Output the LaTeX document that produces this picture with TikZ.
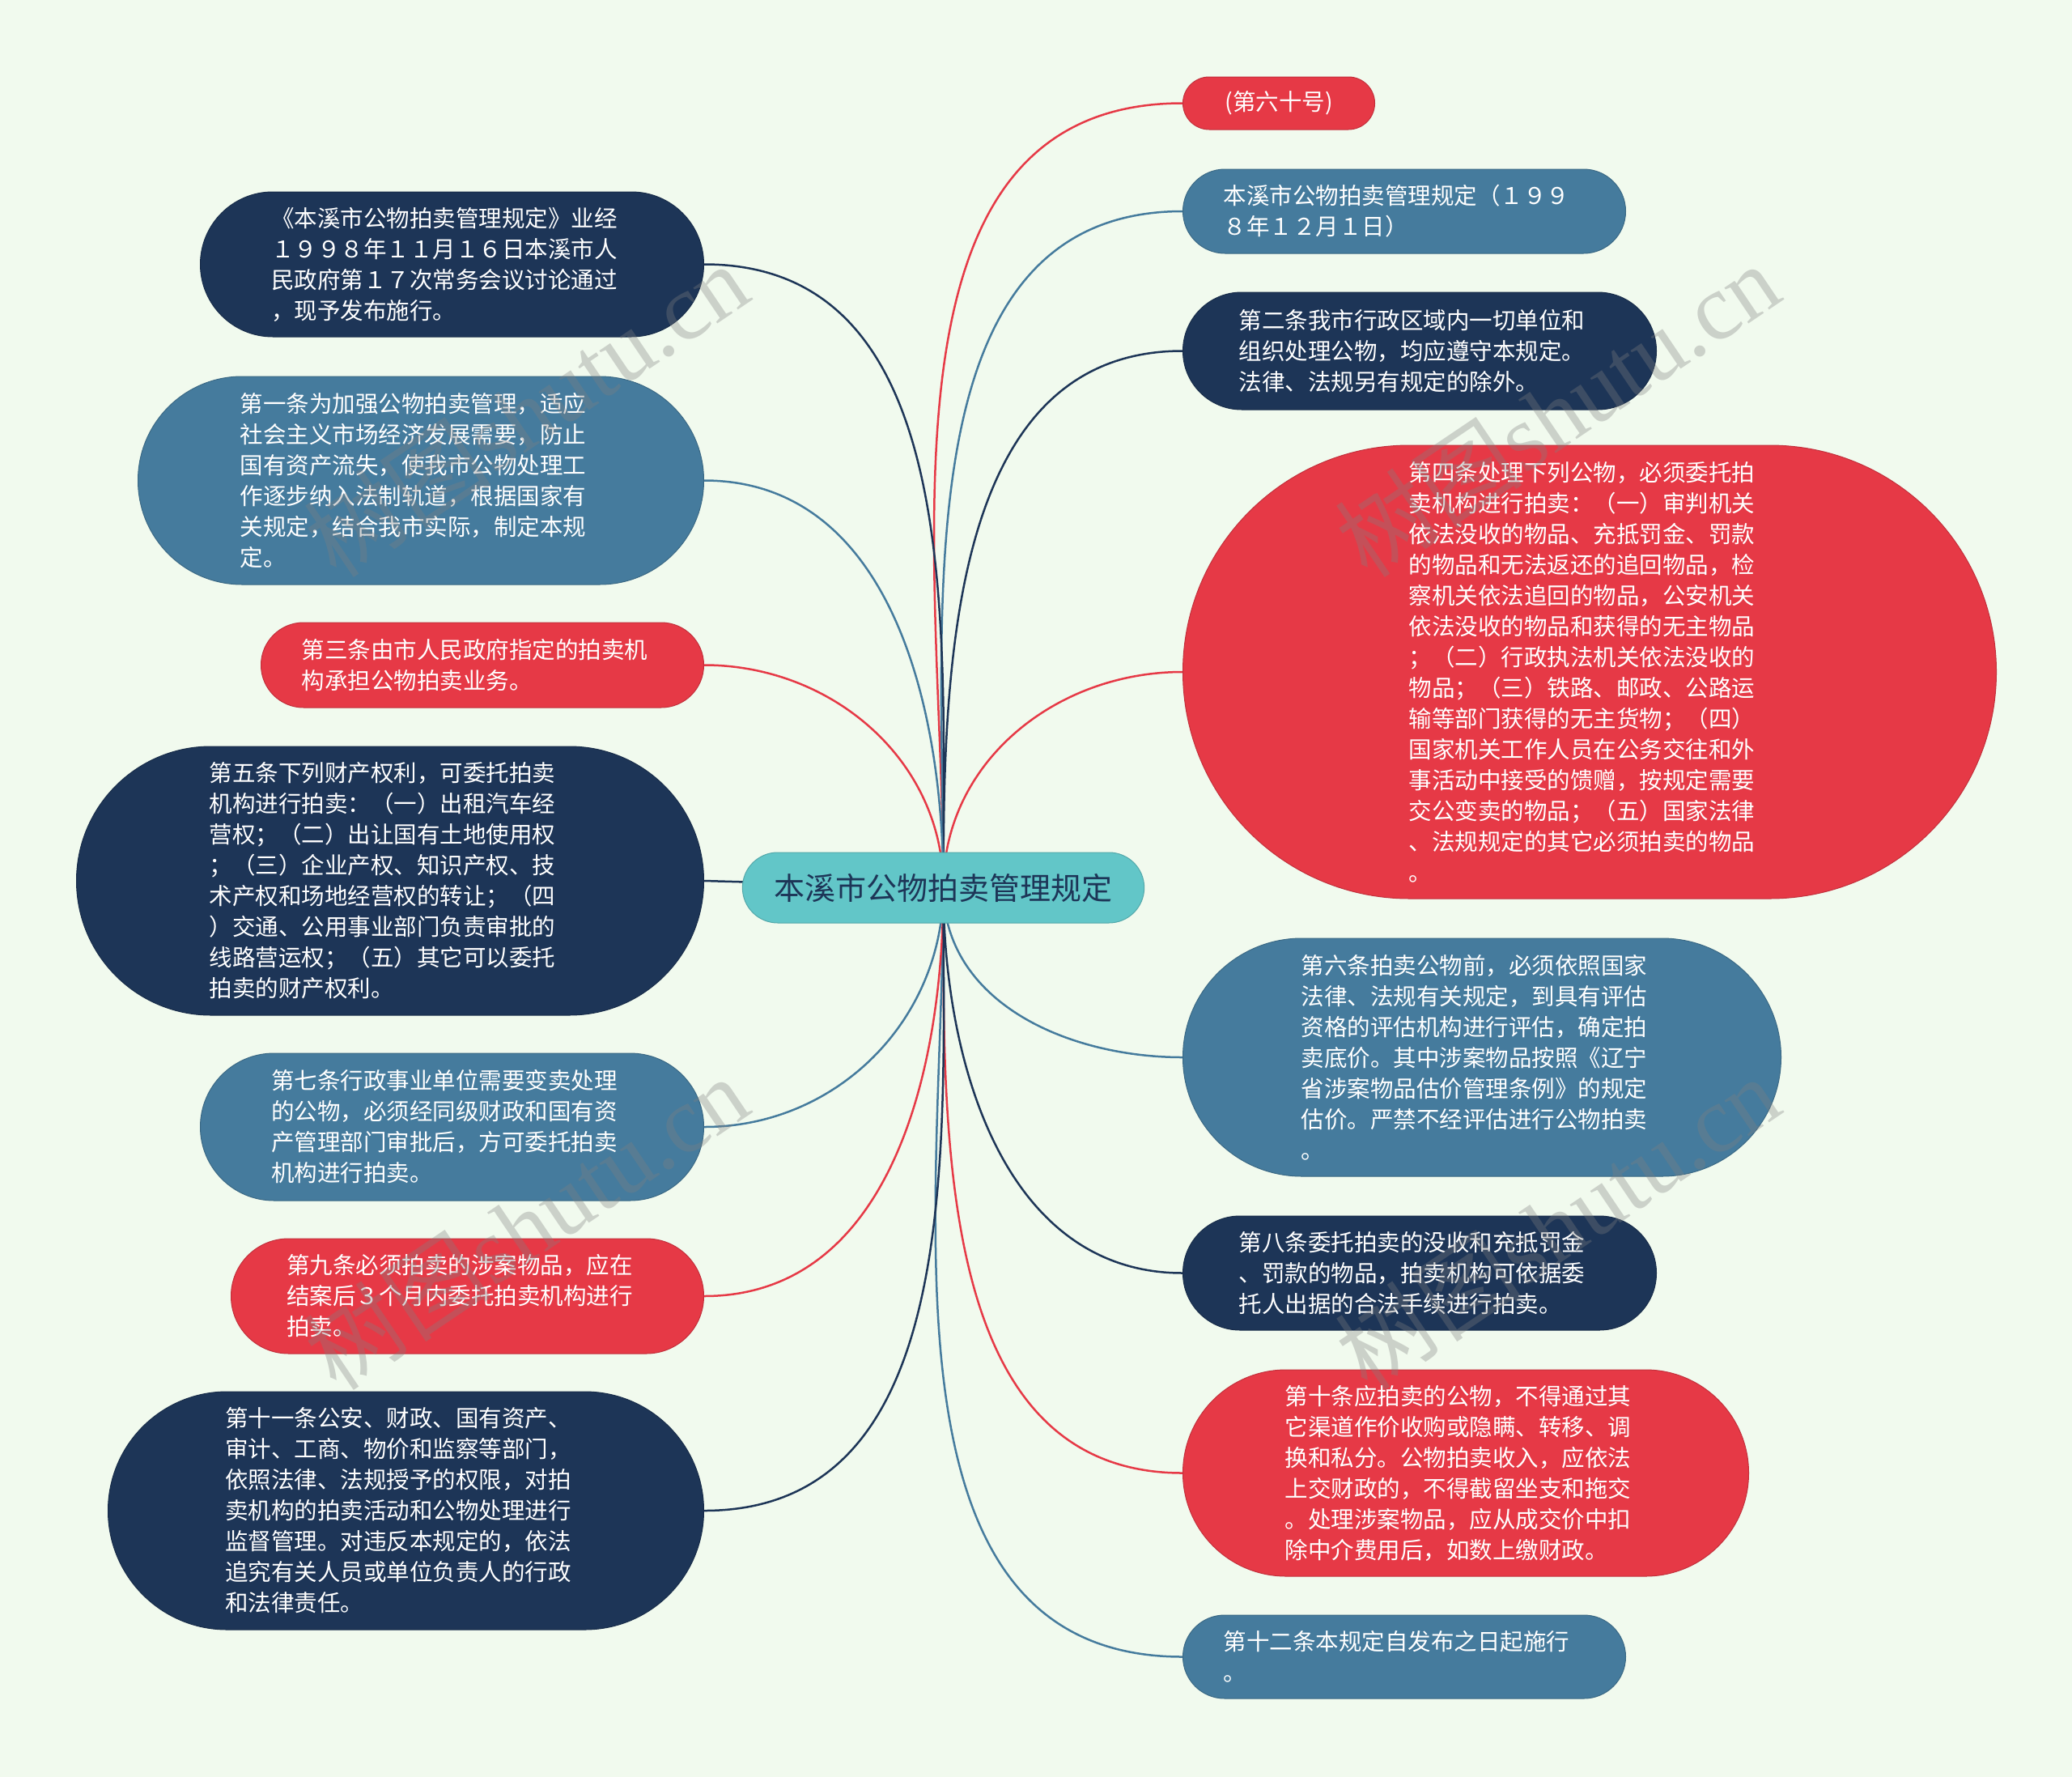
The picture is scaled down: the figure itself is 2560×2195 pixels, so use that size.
\documentclass[tikz,border=0pt]{standalone}
\usepackage{fontspec}
\setmainfont{Noto Sans CJK SC}
\newfontfamily\wmlatin{Liberation Serif}
\usepackage{tikz}
\usetikzlibrary{shapes.misc}

\definecolor{navy}{HTML}{1D3557}
\definecolor{steel}{HTML}{457B9D}
\definecolor{coral}{HTML}{E63946}
\definecolor{mint}{HTML}{F1FAEE}
\definecolor{hubteal}{HTML}{62C6C8}

\pgfdeclarelayer{back}
\pgfdeclarelayer{edges}
\pgfsetlayers{back,edges,main}

\begin{document}
\begin{tikzpicture}[x=1pt,y=-1pt]
		\tikzstyle{topic}=[rounded rectangle, inner sep=0pt, text=white, align=left, text width=447pt, font=\fontsize{28.5}{38}\selectfont]
		\tikzstyle{red topic}=[topic, fill=coral, draw=coral!85!black, line width=1pt]
		\tikzstyle{blue topic}=[topic, fill=steel, draw=steel!85!black, line width=1pt]
		\tikzstyle{navy topic}=[topic, fill=navy, draw=navy!85!black, line width=1pt]
		\tikzstyle{link}=[line width=2.5pt]
		\tikzstyle{watermark}=[gray, opacity=0.33, rotate=34, font=\fontsize{116}{116}\selectfont]

		\begin{pgfonlayer}{back}
			\fill[mint] (0,0) rectangle (2560,2195);
		\end{pgfonlayer}
		\useasboundingbox (0,0) rectangle (2560,2195);

		% centre
		\node [rounded rectangle, fill=hubteal, draw=hubteal!85!black, line width=1pt, text=navy, minimum width=503pt, minimum height=87pt, font=\fontsize{38}{44}\selectfont] (root) at (1165.5,1096.5) {本溪市公物拍卖管理规定};

		% right side
		\node [red topic, text width=, minimum width=237pt, minimum height=65pt, anchor=west] (r1) at (1461,127.5) {(第六十号)};
		\node [blue topic, minimum width=547pt, minimum height=104pt, anchor=west] (r2) at (1461,261) {本溪市公物拍卖管理规定（１９９\\８年１２月１日）};
		\node [navy topic, minimum width=585pt, minimum height=145pt, anchor=west] (r3) at (1461,433.5) {第二条我市行政区域内一切单位和\\组织处理公物，均应遵守本规定。\\法律、法规另有规定的除外。};
		\node [red topic, minimum width=1005pt, minimum height=560pt, anchor=west] (r4) at (1461,830) {第四条处理下列公物，必须委托拍\\卖机构进行拍卖：（一）审判机关\\依法没收的物品、充抵罚金、罚款\\的物品和无法返还的追回物品，检\\察机关依法追回的物品，公安机关\\依法没收的物品和获得的无主物品\\；（二）行政执法机关依法没收的\\物品；（三）铁路、邮政、公路运\\输等部门获得的无主货物；（四）\\国家机关工作人员在公务交往和外\\事活动中接受的馈赠，按规定需要\\交公变卖的物品；（五）国家法律\\、法规规定的其它必须拍卖的物品\\。};
		\node [blue topic, minimum width=739pt, minimum height=294pt, anchor=west] (r5) at (1461,1306) {第六条拍卖公物前，必须依照国家\\法律、法规有关规定，到具有评估\\资格的评估机构进行评估，确定拍\\卖底价。其中涉案物品按照《辽宁\\省涉案物品估价管理条例》的规定\\估价。严禁不经评估进行公物拍卖\\。};
		\node [navy topic, minimum width=585pt, minimum height=141pt, anchor=west] (r6) at (1461,1572.5) {第八条委托拍卖的没收和充抵罚金\\、罚款的物品，拍卖机构可依据委\\托人出据的合法手续进行拍卖。};
		\node [red topic, minimum width=699pt, minimum height=255pt, anchor=west] (r7) at (1461,1819.5) {第十条应拍卖的公物，不得通过其\\它渠道作价收购或隐瞒、转移、调\\换和私分。公物拍卖收入，应依法\\上交财政的，不得截留坐支和拖交\\。处理涉案物品，应从成交价中扣\\除中介费用后，如数上缴财政。};
		\node [blue topic, minimum width=547pt, minimum height=103pt, anchor=west] (r8) at (1461,2046.5) {第十二条本规定自发布之日起施行\\。};

		% left side
		\node [navy topic, minimum width=622pt, minimum height=179pt, anchor=east] (l1) at (870,326.5) {《本溪市公物拍卖管理规定》业经\\１９９８年１１月１６日本溪市人\\民政府第１７次常务会议讨论通过\\，现予发布施行。};
		\node [blue topic, minimum width=699pt, minimum height=257pt, anchor=east] (l2) at (870,593.5) {第一条为加强公物拍卖管理，适应\\社会主义市场经济发展需要，防止\\国有资产流失，使我市公物处理工\\作逐步纳入法制轨道，根据国家有\\关规定，结合我市实际，制定本规\\定。};
		\node [red topic, minimum width=547pt, minimum height=105pt, anchor=east] (l3) at (870,821.5) {第三条由市人民政府指定的拍卖机\\构承担公物拍卖业务。};
		\node [navy topic, minimum width=775pt, minimum height=332pt, anchor=east] (l4) at (870,1088) {第五条下列财产权利，可委托拍卖\\机构进行拍卖：（一）出租汽车经\\营权；（二）出让国有土地使用权\\；（三）企业产权、知识产权、技\\术产权和场地经营权的转让；（四\\）交通、公用事业部门负责审批的\\线路营运权；（五）其它可以委托\\拍卖的财产权利。};
		\node [blue topic, minimum width=622pt, minimum height=182pt, anchor=east] (l5) at (870,1392) {第七条行政事业单位需要变卖处理\\的公物，必须经同级财政和国有资\\产管理部门审批后，方可委托拍卖\\机构进行拍卖。};
		\node [red topic, minimum width=584pt, minimum height=142pt, anchor=east] (l6) at (870,1601) {第九条必须拍卖的涉案物品，应在\\结案后３个月内委托拍卖机构进行\\拍卖。};
		\node [navy topic, minimum width=736pt, minimum height=294pt, anchor=east] (l7) at (870,1866) {第十一条公安、财政、国有资产、\\审计、工商、物价和监察等部门，\\依照法律、法规授予的权限，对拍\\卖机构的拍卖活动和公物处理进行\\监督管理。对违反本规定的，依法\\追究有关人员或单位负责人的行政\\和法律责任。};

		% links
		\begin{pgfonlayer}{edges}
			\draw [link, coral] (root.center) to [out=90, in=180] (r1.west);
			\draw [link, steel] (root.center) to [out=90, in=180] (r2.west);
			\draw [link, navy] (root.center) to [out=90, in=180] (r3.west);
			\draw [link, coral] (root.center) to [out=90, in=180] (r4.west);
			\draw [link, steel] (root.center) to [out=-90, in=180] (r5.west);
			\draw [link, navy] (root.center) to [out=-90, in=180] (r6.west);
			\draw [link, coral] (root.center) to [out=-90, in=180] (r7.west);
			\draw [link, steel] (root.center) to [out=-90, in=180] (r8.west);
			\draw [link, navy] (root.center) to [out=90, in=0] (l1.east);
			\draw [link, steel] (root.center) to [out=90, in=0] (l2.east);
			\draw [link, coral] (root.center) to [out=90, in=0] (l3.east);
			\draw [link, navy] (root.center) -- (l4.east);
			\draw [link, steel] (root.center) to [out=-90, in=0] (l5.east);
			\draw [link, coral] (root.center) to [out=-90, in=0] (l6.east);
			\draw [link, navy] (root.center) to [out=-90, in=0] (l7.east);
		\end{pgfonlayer}

		% watermarks
		\node [watermark] (wm1) at (650,506) {树图{\wmlatin shutu.cn}};
		\node [watermark] (wm2) at (1924,506) {树图{\wmlatin shutu.cn}};
		\node [watermark] (wm3) at (650,1510) {树图{\wmlatin shutu.cn}};
		\node [watermark] (wm4) at (1924,1510) {树图{\wmlatin shutu.cn}};
	\end{tikzpicture}
\end{document}
